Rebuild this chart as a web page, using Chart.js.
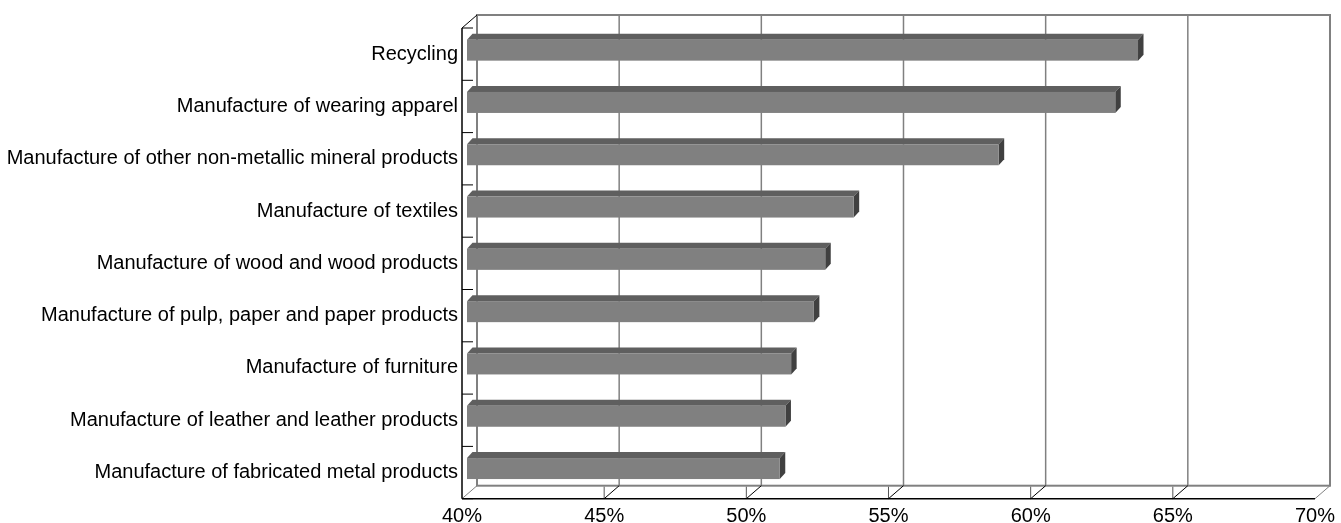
<!DOCTYPE html>
<html>
<head>
<meta charset="utf-8">
<style>
html,body{margin:0;padding:0;background:#fff;overflow:hidden}
#wrap{width:1341px;height:523px;position:relative}
</style>
<script src="https://cdn.jsdelivr.net/npm/chart.js@4/dist/chart.umd.min.js"></script>
</head>
<body>
<div id="wrap"><canvas id="c"></canvas></div>
<script>
const categories = [
  "Recycling",
  "Manufacture of wearing apparel",
  "Manufacture of other non-metallic mineral products",
  "Manufacture of textiles",
  "Manufacture of wood and wood products",
  "Manufacture of pulp, paper and paper products",
  "Manufacture of furniture",
  "Manufacture of leather and leather products",
  "Manufacture of fabricated metal products"
];
const values = [63.6, 62.8, 58.7, 53.6, 52.6, 52.2, 51.4, 51.2, 51.0];
const xTicks = [40, 45, 50, 55, 60, 65, 70];

// style constants (3D projection look)
const DEPTH = {dx: 15, dy: -13};
const BAR_OFF = {dx: 5, dy: -4};
const BAR_DEPTH = {dx: 5.5, dy: -6};
const FRONT = '#808080', TOP = '#5f5f5f', SIDE = '#404040';

Chart.defaults.font.family = "'Liberation Sans', Arial, sans-serif";

function line(ctx, x1, y1, x2, y2) {
  ctx.beginPath(); ctx.moveTo(x1, y1); ctx.lineTo(x2, y2); ctx.stroke();
}
function poly(ctx, pts, color) {
  ctx.beginPath();
  ctx.moveTo(pts[0][0], pts[0][1]);
  for (let i = 1; i < pts.length; i++) ctx.lineTo(pts[i][0], pts[i][1]);
  ctx.closePath();
  ctx.fillStyle = color; ctx.fill();
}

const threeD = {
  id: 'threeD',
  beforeDatasetsDraw(chart) {
    const {ctx, chartArea: a, scales: {x, y}} = chart;
    ctx.save();
    // back wall gridlines
    ctx.strokeStyle = '#808080';
    ctx.lineWidth = 1.5;
    xTicks.forEach(v => {
      const px = x.getPixelForValue(v) + DEPTH.dx;
      line(ctx, px, a.top + DEPTH.dy, px, a.bottom + DEPTH.dy);
    });
    // back wall border
    ctx.lineWidth = 2;
    ctx.strokeRect(a.left + DEPTH.dx, a.top + DEPTH.dy, a.right - a.left, a.bottom - a.top);
    // floor diagonals and ticks
    const last = xTicks.length - 1;
    xTicks.forEach((v, i) => {
      const px = x.getPixelForValue(v);
      ctx.lineWidth = 1;
      ctx.strokeStyle = (i === 0 || i === last) ? '#808080' : '#000';
      line(ctx, px, a.bottom, px + DEPTH.dx, a.bottom + DEPTH.dy);
      if (i > 0 && i < last) {
        ctx.strokeStyle = '#555';
        line(ctx, px, a.bottom, px, a.bottom - 12);
      }
    });
    // front floor edge
    ctx.strokeStyle = '#000';
    ctx.lineWidth = 1.5;
    line(ctx, a.left, a.bottom, a.right, a.bottom);
    // left axis
    line(ctx, a.left, a.top, a.left, a.bottom);
    ctx.lineWidth = 1;
    line(ctx, a.left, a.top, a.left + DEPTH.dx, a.top + DEPTH.dy);
    // category boundary ticks
    for (let i = 0; i <= categories.length; i++) {
      const py = y.getPixelForValue(i - 0.5);
      line(ctx, a.left, py, a.left + 11, py);
    }
    ctx.restore();
  },
  afterDatasetsDraw(chart) {
    const ctx = chart.ctx;
    const meta = chart.getDatasetMeta(0);
    ctx.save();
    meta.data.forEach(el => {
      const p = el.getProps(['x', 'y', 'base', 'height'], true);
      const x0 = p.base + BAR_OFF.dx, x1 = p.x + BAR_OFF.dx;
      const top = p.y - p.height / 2 + BAR_OFF.dy;
      const bot = p.y + p.height / 2 + BAR_OFF.dy;
      poly(ctx, [[x0, top], [x0 + BAR_DEPTH.dx, top + BAR_DEPTH.dy], [x1 + BAR_DEPTH.dx, top + BAR_DEPTH.dy], [x1, top]], TOP);
      poly(ctx, [[x1, top], [x1 + BAR_DEPTH.dx, top + BAR_DEPTH.dy], [x1 + BAR_DEPTH.dx, bot + BAR_DEPTH.dy], [x1, bot]], SIDE);
      ctx.fillStyle = FRONT;
      ctx.fillRect(x0, top, x1 - x0, bot - top);
    });
    ctx.restore();
  }
};

new Chart(document.getElementById('c'), {
  type: 'bar',
  data: {
    labels: categories,
    datasets: [{
      data: values,
      base: xTicks[0],
      backgroundColor: 'rgba(0,0,0,0)',
      borderWidth: 0,
      barThickness: 21
    }]
  },
  options: {
    indexAxis: 'y',
    responsive: true,
    maintainAspectRatio: false,
    animation: false,
    devicePixelRatio: 1,
    layout: {padding: {top: 28, right: 22, bottom: 0, left: 0}},
    plugins: {legend: {display: false}, tooltip: {enabled: false}},
    scales: {
      x: {
        type: 'linear',
        min: 40, max: 70,
        afterBuildTicks: s => { s.ticks = xTicks.map(v => ({value: v})); },
        afterFit: s => { s.height = 24.3; },
        grid: {display: false, drawTicks: false},
        border: {display: false},
        ticks: {
          callback: v => v + '%',
          font: {size: 20},
          color: '#000',
          padding: 6,
          maxRotation: 0,
          autoSkip: false
        }
      },
      y: {
        type: 'category',
        afterFit: s => { s.width = 462; },
        grid: {display: false, drawTicks: false},
        border: {display: false},
        ticks: {
          font: {size: 20},
          color: '#000',
          padding: 4,
          autoSkip: false
        }
      }
    }
  },
  plugins: [threeD]
});
</script>
</body>
</html>
